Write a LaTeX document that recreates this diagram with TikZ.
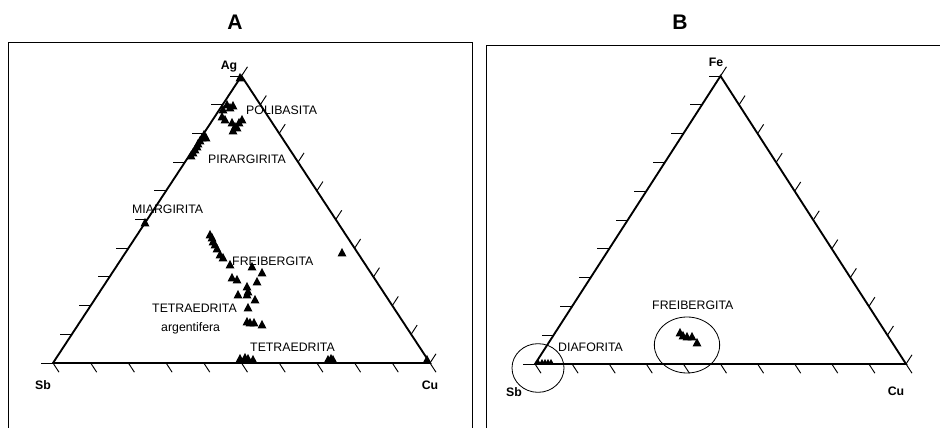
\documentclass[tikz,border=0pt]{standalone}
\usepackage{fontspec}
\setmainfont{Liberation Sans}
\usetikzlibrary{calc}

\begin{document}
\begin{tikzpicture}[x=0.03cm, y=-0.03cm,
            frame/.style={line width=0.8pt},
            edge/.style={line width=1.6pt, line join=miter},
            tickmark/.style={line width=0.8pt},
            ring/.style={line width=0.7pt},
            title/.style={font=\fontsize{18}{20}\selectfont\bfseries},
            corner/.style={font=\fontsize{10.5}{12}\selectfont\bfseries},
            mineral/.style={font=\fontsize{10.5}{12}\selectfont, anchor=west, inner sep=0pt},
            tri/.pic={\fill (-4.5,3.5) -- (4.5,3.5) -- (0,-5) -- cycle;},
            minitri/.pic={\fill (-2.5,1.5) -- (2.5,1.5) -- (0,-3) -- cycle;}
        ]
            \clip (0,0) rectangle (940,428);
            \fill[white] (0,0) rectangle (940,428);
            \draw[frame] (8,440) |- (472,42) -- (472,440);
            \draw[frame] (486,440) |- (950,45);

            \coordinate (sbA) at (53,363);
            \coordinate (cuA) at (430,363);
            \coordinate (agA) at (241.5,76);
            \coordinate (sbB) at (535,364);
            \coordinate (cuB) at (906,364);
            \coordinate (feB) at (720.5,76);

            \foreach \i in {0,...,10} {
                \draw[tickmark] ($(sbA)!\i/10!(cuA)$) -- ++(6,9.2);
                \draw[tickmark] ($(cuA)!\i/10!(agA)$) -- ++(6,-9.2);
                \draw[tickmark] ($(agA)!\i/10!(sbA)$) -- ++(-12,0);
                \draw[tickmark] ($(sbB)!\i/10!(cuB)$) -- ++(6,9.2);
                \draw[tickmark] ($(cuB)!\i/10!(feB)$) -- ++(6,-9.2);
                \draw[tickmark] ($(feB)!\i/10!(sbB)$) -- ++(-12,0);
            }
            \draw[edge] (sbA) -- (cuA) -- (agA) -- cycle;
            \draw[edge] (sbB) -- (cuB) -- (feB) -- cycle;

            \node[title] (titA) at (235,22) {A};
            \node[title] (titB) at (680,22) {B};
            \node[corner] (agLab) at (229,67) {Ag};
            \node[corner] (sbLabA) at (43,385) {Sb};
            \node[corner] (cuLabA) at (430,385) {Cu};
            \node[corner] (feLab) at (716,62) {Fe};
            \node[corner] (sbLabB) at (514,392) {Sb};
            \node[corner] (cuLabB) at (896,391) {Cu};

            \node[mineral] (polib) at (246,110) {POLIBASITA};
            \node[mineral] (pirar) at (208,159) {PIRARGIRITA};
            \node[mineral] (miarg) at (132,209) {MIARGIRITA};
            \node[mineral] (freibA) at (232,261) {FREIBERGITA};
            \node[mineral] (tetAg) at (152,308) {TETRAEDRITA};
            \node[mineral] (argent) at (161,328) {argentifera};
            \node[mineral] (tetra) at (250,347) {TETRAEDRITA};
            \node[mineral] (diaf) at (558,347) {DIAFORITA};
            \node[mineral] (freibB) at (652,305) {FREIBERGITA};

            \foreach \x/\y in {240/78, 223/110, 227/105, 230/108, 233/106, 222/117, 225/120, 232/123, 235/127,
                239/123, 242/120, 237/128, 233/131, 204/135, 206/138, 202/138, 200/141, 198/144, 197/147,
                195/150, 193/153, 191/156, 145/223, 210/235, 212/238, 213/242, 215/245, 217/249, 220/255,
                223/258, 230/265, 252/267, 262/273, 342/253, 232/278, 237/280, 257/282, 247/287, 248/292,
                247/295, 238/295, 255/300, 248/308, 247/322, 250/323, 254/323, 262/325, 240/359, 245/358,
                248/359, 253/360, 328/360, 331/359, 333/360, 427/360, 680/333, 683/336, 687/337, 692/337, 697/343}
                \pic at (\x,\y) {tri};
            \foreach \x in {538, 542, 545, 548, 551}
                \pic at (\x,362) {minitri};

            \draw[ring] (538,368) ellipse [x radius=0.78cm, y radius=0.73cm];
            \draw[ring] (687,345) ellipse [x radius=0.98cm, y radius=0.84cm];
        \end{tikzpicture}
\end{document}
